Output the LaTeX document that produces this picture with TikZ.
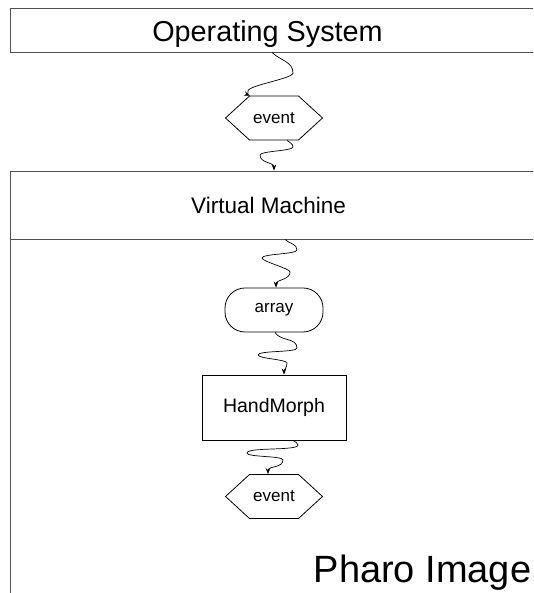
\documentclass[tikz,border=0pt]{standalone}
\usepackage{fontspec}
\setmainfont{Liberation Sans}
\usetikzlibrary{arrows.meta, positioning, shapes.symbols, calc}
\definecolor{linegray}{RGB}{80,80,80}
\tikzset{
  layer/.style   = {draw=linegray, line width=0.9pt, inner sep=0pt},
  caption/.style = {anchor=base, inner sep=0pt},
  msg/.style     = {signal, signal to=east and west, signal pointer angle=85,
                    draw=black, line width=0.8pt, minimum width=97pt,
                    minimum height=44pt, inner sep=0pt,
                    font=\fontsize{17}{19}\selectfont},
  store/.style   = {draw=black, line width=0.8pt, rounded corners=20pt,
                    minimum width=98pt, minimum height=44pt, inner sep=0pt,
                    font=\fontsize{17}{19}\selectfont},
  morph/.style   = {draw=black, line width=0.8pt, minimum width=144pt,
                    minimum height=65pt, inner sep=0pt,
                    font=\fontsize{19.5}{21}\selectfont},
  flow/.style    = {-{Stealth[length=6pt,width=4.5pt]}, line width=0.7pt},
}
\begin{document}
\begin{tikzpicture}[x=1pt, y=1pt]
  \clip (0,0) rectangle (533,593);
  \fill[white] (0,0) rectangle (533,593);
  % layers
  \node[layer, minimum width=550pt, minimum height=384pt] (img) at (285,162) {};
  \node[layer, fill=white, minimum width=530pt, minimum height=68pt] (vm) at (275,388) {};
  \node[layer, minimum width=530pt, minimum height=44pt] (os) at (275,563) {};
  \node[caption, font=\fontsize{28.8}{30}\selectfont] (oslabel) at (267.5,551) {Operating System};
  \node[caption, font=\fontsize{22.5}{24}\selectfont] (vmlabel) at (268.5,379) {Virtual Machine};
  \node[caption, font=\fontsize{38}{40}\selectfont] (imglabel) at (422.5,10) {Pharo Image};
  % objects
  \node[msg] (ev1) at (274,475) {event};
  \node[store] (arr) at (274,283) {array};
  \node[morph] (hm) at (274,185.5) {HandMorph};
  \node[msg] (ev2) at (274,96.5) {event};
  % wiggly flows
  \draw[flow] ([xshift=-3pt]os.south) to[out=-45,in=90] (293,520)
    to[out=-90,in=90,looseness=0.3] (248,502) to[out=-90,in=160] ([xshift=-24pt]ev1.north);
  \draw[flow] ([xshift=13pt]ev1.south) to[out=-45,in=90] (293,446)
    to[out=-90,in=90,looseness=0.3] (260,438) to[out=-90,in=90] ([xshift=-1pt]vm.north);
  \draw[flow] ([xshift=10pt]vm.south) to[out=-45,in=90] (297,343)
    to[out=-90,in=90,looseness=0.3] (262,335) to[out=-90,in=90,looseness=0.3] (290,321)
    to[out=-90,in=90] ([xshift=2pt]arr.north);
  \draw[flow] ([xshift=1pt]arr.south) to[out=-60,in=90] (297,245)
    to[out=-90,in=90,looseness=0.3] (258,238) to[out=-90,in=90,looseness=0.3] (287,230)
    to[out=-90,in=90] ([xshift=10pt]hm.north);
  \draw[flow] ([xshift=19pt]hm.south) to[out=-45,in=90] (298,148)
    to[out=-90,in=90,looseness=0.3] (247,140) to[out=-90,in=90,looseness=0.3] (283,133)
    to[out=-90,in=90] ([xshift=-6pt]ev2.north);
\end{tikzpicture}
\end{document}
